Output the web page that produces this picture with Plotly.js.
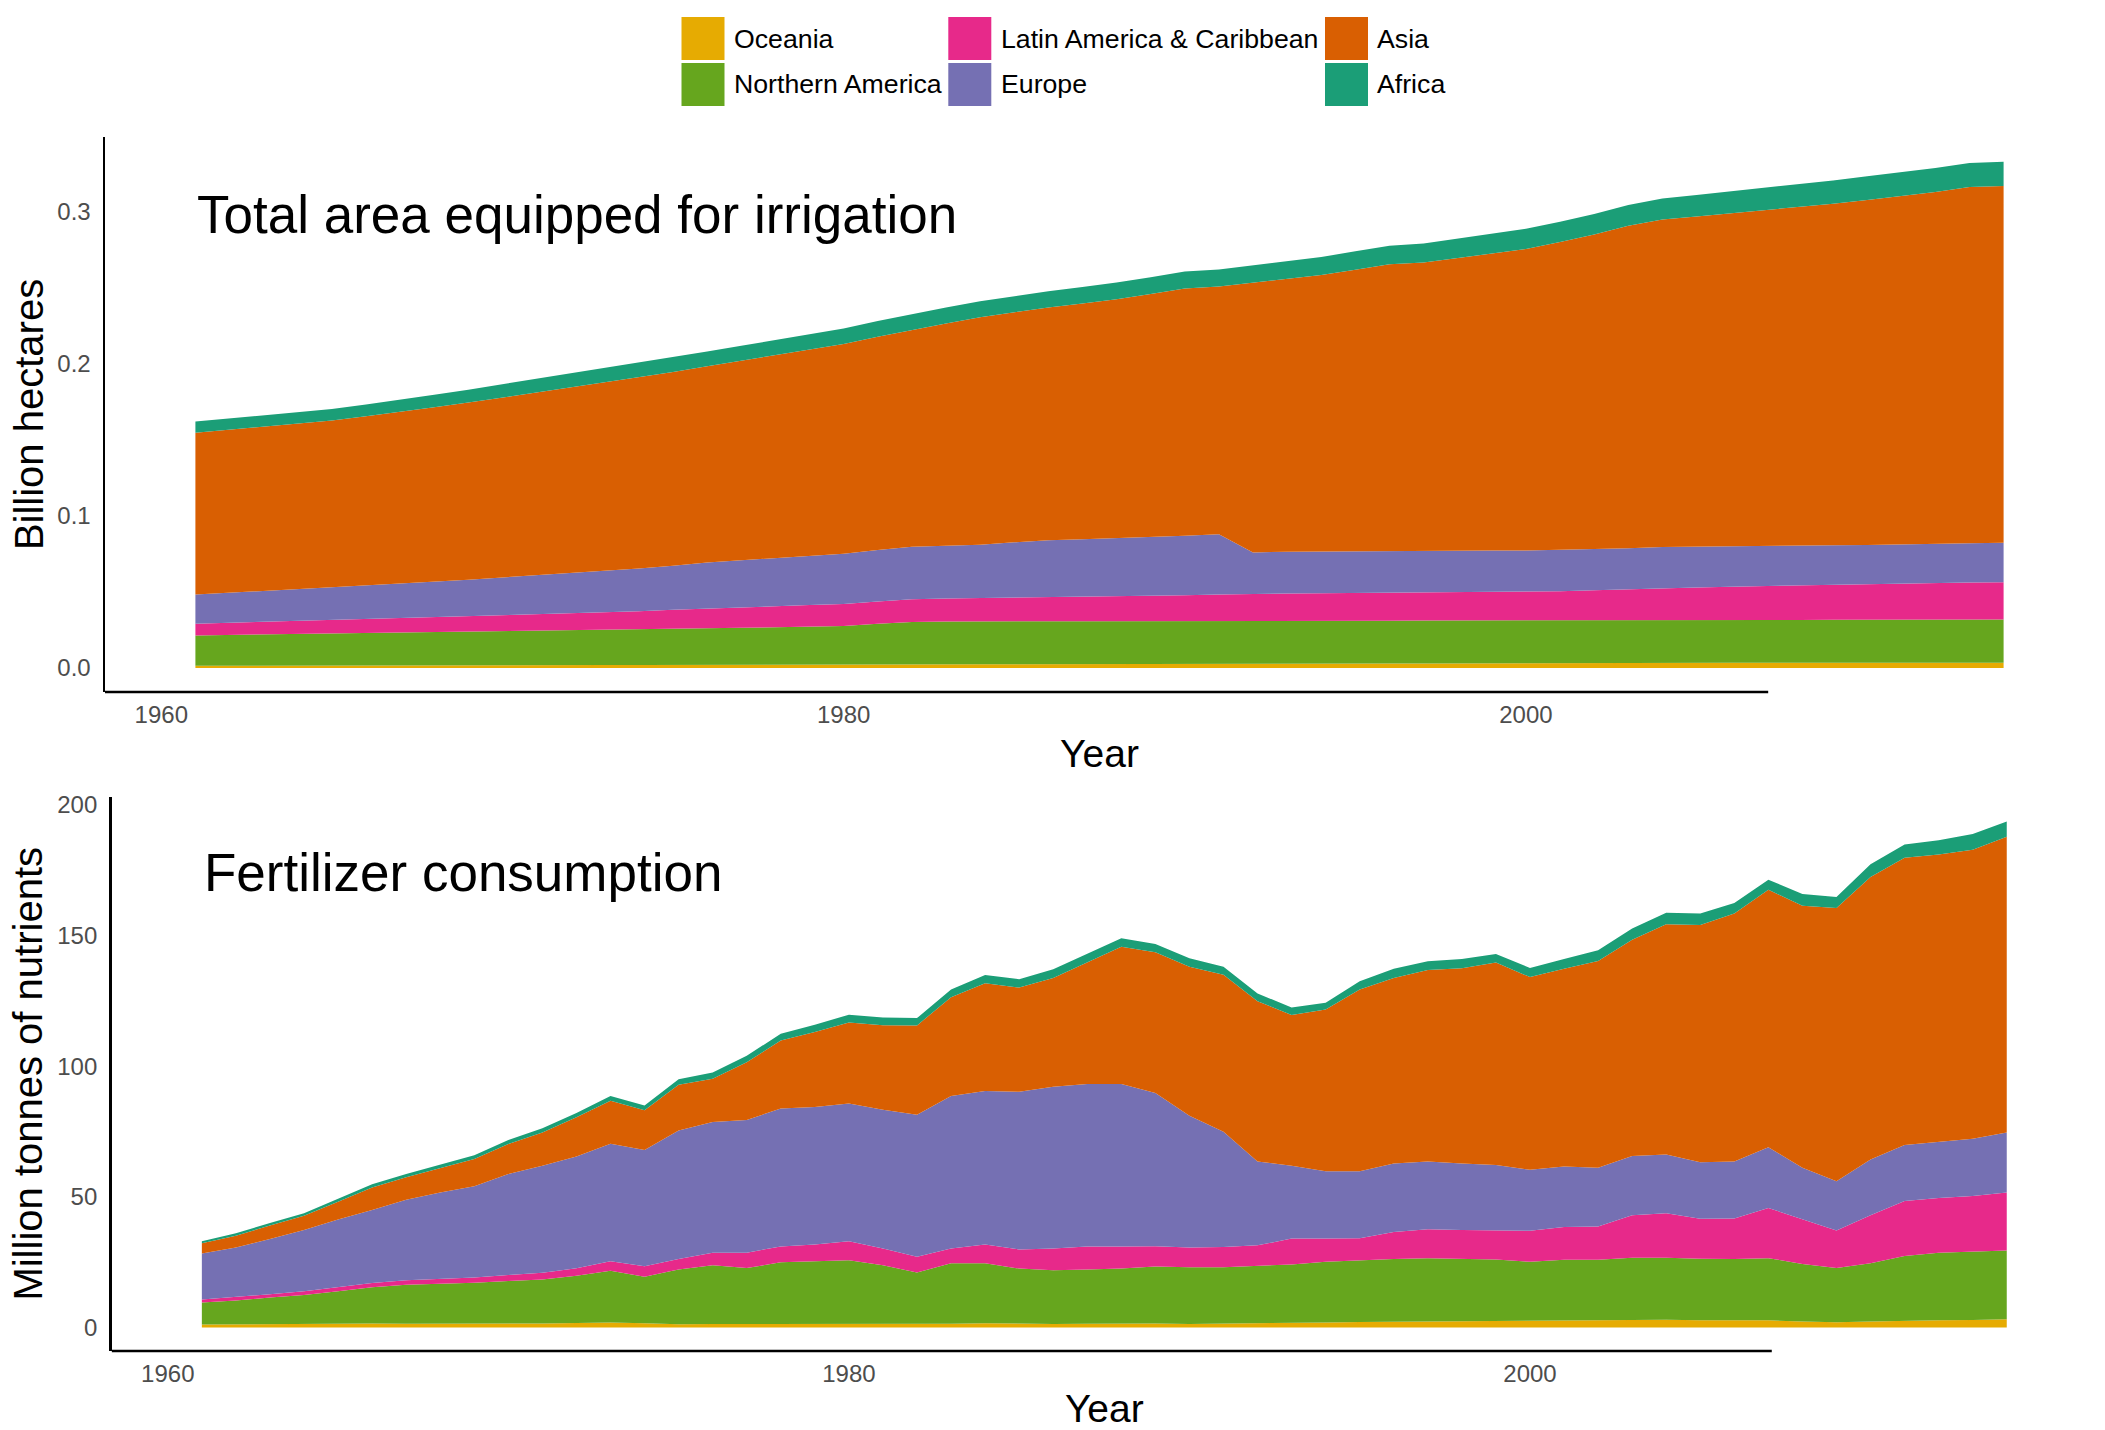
<!DOCTYPE html>
<html><head><meta charset="utf-8">
<script src="https://cdn.plot.ly/plotly-3.0.1.min.js"></script>
<style>html,body{margin:0;padding:0;background:#fff;} #chart{width:2105px;height:1430px;}</style>
</head><body><div id="chart"></div>
<script>
const years = [1961,1962,1963,1964,1965,1966,1967,1968,1969,1970,
  1971,1972,1973,1974,1975,1976,1977,1978,1979,1980,
  1981,1982,1983,1984,1985,1986,1987,1988,1989,1990,
  1991,1992,1993,1994,1995,1996,1997,1998,1999,2000,
  2001,2002,2003,2004,2005,2006,2007,2008,2009,2010,
  2011,2012,2013,2014];

const regions = ['Oceania','Northern America','Latin America & Caribbean','Europe','Asia','Africa'];

// Total area equipped for irrigation (billion hectares)
const irrOceania = [0.0015,0.0015,0.0016,0.0016,0.0016,0.0017,0.0017,0.0017,0.0018,0.0018,
  0.0019,0.0019,0.0019,0.0020,0.0020,0.0021,0.0021,0.0022,0.0022,0.0022,
  0.0023,0.0023,0.0024,0.0024,0.0025,0.0025,0.0025,0.0026,0.0026,0.0026,
  0.0027,0.0027,0.0028,0.0028,0.0029,0.0029,0.0030,0.0031,0.0032,0.0033,
  0.0034,0.0034,0.0035,0.0035,0.0035,0.0035,0.0035,0.0035,0.0035,0.0035,
  0.0035,0.0035,0.0035,0.0035];
const irrNorthAmerica = [0.0199,0.0202,0.0204,0.0207,0.0209,0.0211,0.0213,0.0216,0.0218,0.0221,
  0.0223,0.0226,0.0229,0.0231,0.0236,0.0240,0.0243,0.0246,0.0250,0.0254,
  0.0267,0.0279,0.0281,0.0283,0.0282,0.0282,0.0282,0.0281,0.0281,0.0281,
  0.0280,0.0280,0.0280,0.0280,0.0280,0.0281,0.0282,0.0281,0.0280,0.0279,
  0.0278,0.0279,0.0279,0.0280,0.0280,0.0281,0.0281,0.0281,0.0282,0.0282,
  0.0282,0.0283,0.0283,0.0284];
const irrLatinAmerica = [0.0077,0.0080,0.0083,0.0086,0.0089,0.0092,0.0095,0.0098,0.0101,0.0105,
  0.0109,0.0113,0.0117,0.0121,0.0126,0.0130,0.0134,0.0137,0.0141,0.0144,
  0.0147,0.0150,0.0151,0.0152,0.0154,0.0155,0.0157,0.0160,0.0164,0.0170,
  0.0175,0.0180,0.0182,0.0183,0.0184,0.0185,0.0186,0.0186,0.0187,0.0188,
  0.0192,0.0197,0.0203,0.0210,0.0214,0.0218,0.0222,0.0227,0.0231,0.0235,
  0.0238,0.0242,0.0243,0.0244];
const irrEurope = [0.0191,0.0197,0.0202,0.0208,0.0214,0.0221,0.0228,0.0236,0.0243,0.0251,
  0.0258,0.0266,0.0273,0.0281,0.0289,0.0301,0.0309,0.0316,0.0324,0.0331,
  0.0338,0.0344,0.0347,0.0350,0.0364,0.0377,0.0381,0.0385,0.0389,0.0392,
  0.0397,0.0272,0.0273,0.0274,0.0274,0.0274,0.0273,0.0272,0.0272,0.0271,
  0.0271,0.0271,0.0270,0.0269,0.0268,0.0267,0.0264,0.0261,0.0258,0.0256,
  0.0257,0.0259,0.0259,0.0259];
const irrAsia = [0.1063,0.1071,0.1080,0.1089,0.1098,0.1113,0.1128,0.1145,0.1163,0.1181,
  0.1200,0.1218,0.1237,0.1255,0.1272,0.1289,0.1311,0.1333,0.1355,0.1377,
  0.1401,0.1425,0.1460,0.1495,0.1511,0.1528,0.1549,0.1570,0.1596,0.1623,
  0.1626,0.1771,0.1794,0.1816,0.1849,0.1882,0.1892,0.1921,0.1950,0.1980,
  0.2022,0.2065,0.2117,0.2151,0.2168,0.2185,0.2203,0.2221,0.2243,0.2266,
  0.2286,0.2307,0.2338,0.2344];
const irrAfrica = [0.0073,0.0073,0.0074,0.0074,0.0075,0.0077,0.0080,0.0083,0.0085,0.0088,
  0.0090,0.0092,0.0094,0.0095,0.0096,0.0097,0.0098,0.0099,0.0100,0.0101,
  0.0102,0.0103,0.0104,0.0105,0.0106,0.0107,0.0108,0.0109,0.0110,0.0111,
  0.0112,0.0115,0.0117,0.0118,0.0120,0.0122,0.0124,0.0127,0.0130,0.0133,
  0.0134,0.0135,0.0137,0.0138,0.0141,0.0144,0.0147,0.0150,0.0153,0.0156,
  0.0157,0.0158,0.0159,0.0159];

// Fertilizer consumption (million tonnes of nutrients)
const fertOceania = [1.1,1.2,1.3,1.4,1.5,1.5,1.4,1.4,1.5,1.5,
  1.5,1.7,1.9,1.6,1.2,1.3,1.3,1.4,1.5,1.5,
  1.4,1.3,1.4,1.6,1.4,1.3,1.4,1.5,1.5,1.3,
  1.4,1.5,1.7,1.9,2.1,2.2,2.4,2.5,2.6,2.6,
  2.8,2.8,2.8,2.9,2.7,2.6,2.7,2.3,2.0,2.3,
  2.6,2.7,2.8,3.1];
const fertNorthAmerica = [8.4,9.1,10.1,11.0,12.3,13.9,14.9,15.3,15.6,16.3,
  16.8,18.1,19.8,17.8,21.0,22.5,21.4,23.5,23.9,24.2,
  22.4,19.7,23.2,23.0,21.1,20.6,20.8,21.0,21.8,21.7,
  21.6,22.0,22.4,23.2,23.6,24.0,24.1,23.7,23.4,22.5,
  23.1,23.1,23.9,23.8,23.6,23.6,23.8,22.0,20.7,22.3,
  24.7,25.9,26.2,26.3];
const fertLatinAmerica = [1.2,1.3,1.3,1.4,1.5,1.6,1.7,1.8,2.0,2.3,
  2.6,2.8,3.6,4.0,4.0,4.8,5.9,6.1,6.3,7.3,
  6.4,6.0,5.6,7.1,7.3,8.3,8.8,8.5,7.8,7.6,
  7.8,7.9,9.9,8.9,8.4,10.3,11.1,11.1,11.1,11.9,
  12.5,12.7,16.2,17.0,15.3,15.5,19.2,17.0,14.4,18.3,
  21.1,20.9,21.3,22.2];
const fertEurope = [17.6,19.0,21.1,23.5,26.0,27.9,30.9,33.1,34.9,38.6,
  41.0,42.8,45.0,44.5,49.2,50.0,50.8,52.8,52.7,52.7,
  53.1,54.4,58.4,58.8,60.4,61.9,62.2,62.2,58.6,50.4,
  44.1,32.1,27.9,25.8,25.7,26.2,25.9,25.4,25.1,23.3,
  23.2,22.5,22.7,22.5,21.6,21.8,23.3,19.8,18.8,21.4,
  21.4,21.5,21.9,23.0];
const fertAsia = [3.9,4.5,5.2,5.4,6.8,8.7,8.6,9.3,10.5,11.5,
  12.7,15.0,16.5,15.2,17.5,16.6,22.1,26.0,28.7,31.0,
  32.4,34.2,37.8,41.2,39.9,41.7,46.7,52.5,53.9,57.1,
  60.1,61.4,57.7,61.9,69.6,71.1,73.3,74.8,77.5,73.8,
  75.7,79.2,82.8,88.1,90.8,94.9,98.5,100.3,104.7,108.1,
  110.0,110.0,110.7,113.2];
const fertAfrica = [0.8,0.9,1.0,1.0,1.1,1.2,1.2,1.3,1.4,1.5,
  1.6,1.7,1.8,1.8,2.1,2.4,2.5,2.6,2.8,3.0,
  2.9,2.8,3.0,3.2,3.2,3.3,3.3,3.3,3.2,3.2,
  3.1,2.9,2.9,2.6,3.1,3.5,3.4,3.5,3.2,3.5,
  3.7,4.1,4.3,4.4,4.4,4.1,3.9,4.5,4.2,4.9,
  5.1,5.5,6.0,5.9];

const xTickVals = [1960, 1980, 2000];
const irrTickVals = [0, 0.1, 0.2, 0.3];
const irrTickText = ['0.0', '0.1', '0.2', '0.3'];
const fertTickVals = [0, 50, 100, 150, 200];
const panelTitles = ['Total area equipped for irrigation', 'Fertilizer consumption'];
const yTitles = ['Billion hectares', 'Million tonnes of nutrients'];
const xTitle = 'Year';

// ---- styling / layout ----
const colors = ['#E6AB02', '#66A61E', '#E7298A', '#7570B3', '#D95F02', '#1B9E77'];
const FONT = 'Liberation Sans, Arial, Helvetica, sans-serif';
const W = 2105, H = 1430;
const px = v => v / W;
const py = v => 1 - v / H;

const irrSeries = [irrOceania, irrNorthAmerica, irrLatinAmerica, irrEurope, irrAsia, irrAfrica];
const fertSeries = [fertOceania, fertNorthAmerica, fertLatinAmerica, fertEurope, fertAsia, fertAfrica];

const traces = [];
regions.forEach((r, i) => {
  traces.push({type: 'scatter', mode: 'lines', x: years, y: irrSeries[i], stackgroup: 'irr',
    line: {width: 0, color: colors[i]}, fillcolor: colors[i], name: r, showlegend: false,
    xaxis: 'x', yaxis: 'y'});
});
regions.forEach((r, i) => {
  traces.push({type: 'scatter', mode: 'lines', x: years, y: fertSeries[i], stackgroup: 'fert',
    line: {width: 0, color: colors[i]}, fillcolor: colors[i], name: r, showlegend: false,
    xaxis: 'x2', yaxis: 'y2'});
});

const xRange = [1958.35, 2016.65];
const tickFont = {family: FONT, size: 24, color: '#4D4D4D'};
const titleFont = {family: FONT, size: 39, color: '#000000'};

function xAxis(domain, anchor) {
  return {domain: domain, anchor: anchor, range: xRange, tickmode: 'array', tickvals: xTickVals,
    showgrid: false, zeroline: false, showline: false, ticks: '', tickfont: tickFont,
    ticklabelstandoff: 6,
    title: {text: xTitle, font: titleFont, standoff: 12}, fixedrange: true, automargin: false};
}
function yAxis(domain, anchor, range, tv, tt, title) {
  const a = {domain: domain, anchor: anchor, range: range, tickmode: 'array', tickvals: tv,
    showgrid: false, zeroline: false, showline: true, linecolor: '#000000', linewidth: 2.5,
    ticks: '', tickfont: tickFont, ticklabelstandoff: 7,
    title: {text: title, font: {family: FONT, size: 40, color: '#000'}, standoff: 2},
    fixedrange: true, automargin: false};
  if (tt) a.ticktext = tt;
  return a;
}

const shapes = [
  {type: 'line', xref: 'x', yref: 'y domain', x0: xRange[0], x1: 2007.1, y0: 0, y1: 0,
    line: {color: '#000000', width: 2.5}},
  {type: 'line', xref: 'x2', yref: 'y2 domain', x0: xRange[0], x1: 2007.1, y0: 0, y1: 0,
    line: {color: '#000000', width: 2.5}}
];
const annotations = [
  {xref: 'x', yref: 'y', x: 1961, y: 0.298, text: panelTitles[0], showarrow: false,
    xanchor: 'left', yanchor: 'middle', yshift: 0, font: {family: FONT, size: 53, color: '#000'}},
  {xref: 'x2', yref: 'y2', x: 1961, y: 174, text: panelTitles[1], showarrow: false,
    xanchor: 'left', yanchor: 'middle', yshift: 0, font: {family: FONT, size: 53, color: '#000'}}
];

// manual legend: 3 columns x 2 rows (column-major order)
const legendCols = [[681.5, 732], [948.3, 998.5], [1325, 1374.5]];
const legendRows = [[17, 60], [63, 106]];
regions.forEach((r, i) => {
  const c = Math.floor(i / 2), rw = i % 2;
  const kx = legendCols[c][0], tx = legendCols[c][1];
  const ry = legendRows[rw];
  shapes.push({type: 'rect', xref: 'paper', yref: 'paper', x0: px(kx), x1: px(kx + 43),
    y0: py(ry[1]), y1: py(ry[0]), fillcolor: colors[i], line: {width: 0}});
  annotations.push({xref: 'paper', yref: 'paper', x: px(tx), y: py((ry[0] + ry[1]) / 2),
    xanchor: 'left', yanchor: 'middle', text: r, showarrow: false,
    font: {family: FONT, size: 26.7, color: '#000'}});
});

const layout = {
  width: W, height: H, margin: {l: 0, r: 0, t: 0, b: 0, pad: 0},
  paper_bgcolor: '#ffffff', plot_bgcolor: '#ffffff', showlegend: false,
  font: {family: FONT},
  xaxis: xAxis([px(105), px(2094)], 'y'),
  yaxis: yAxis([py(692), py(137)], 'x', [-0.01576, 0.3487], irrTickVals, irrTickText, yTitles[0]),
  xaxis2: xAxis([px(111.6), px(2097)], 'y2'),
  yaxis2: yAxis([py(1351), py(796.6)], 'x2', [-9.04, 203.2], fertTickVals, null, yTitles[1]),
  shapes: shapes, annotations: annotations
};

Plotly.newPlot('chart', traces, layout, {displayModeBar: false, staticPlot: true});
</script>
</body></html>
